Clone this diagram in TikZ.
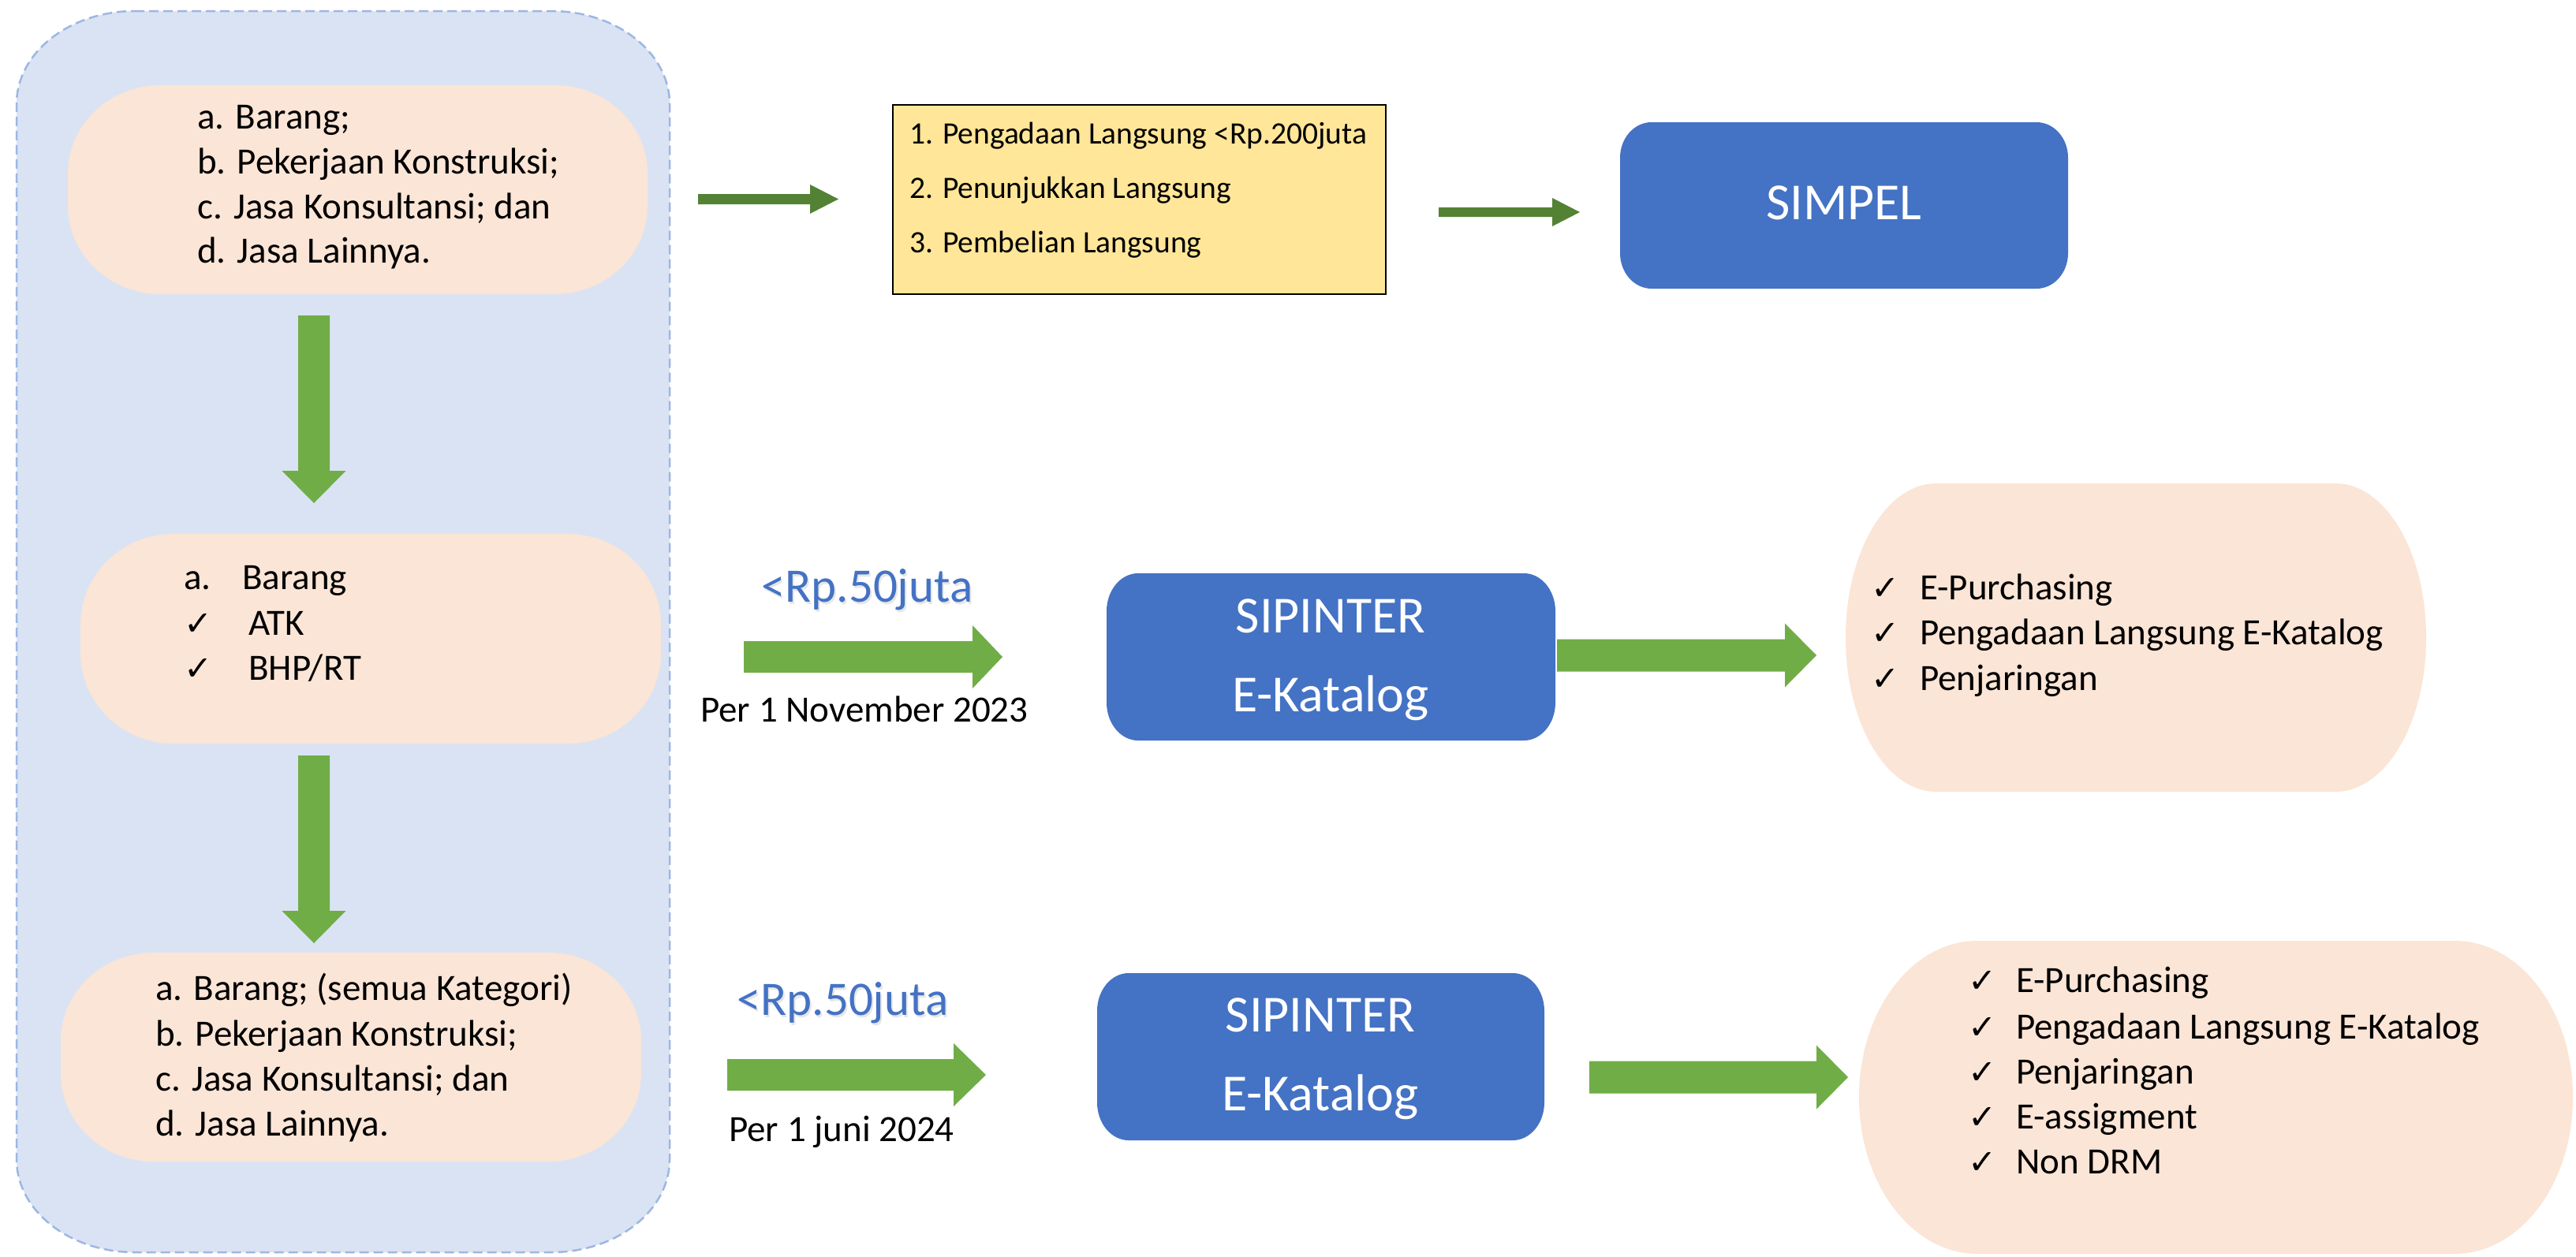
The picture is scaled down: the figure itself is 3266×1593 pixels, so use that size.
\documentclass[tikz,border=0pt]{standalone}
\usepackage{fontspec}
\setmainfont{Carlito}
\newfontfamily\chkfont{DejaVu Sans}
\definecolor{contfill}{HTML}{DAE3F3}
\definecolor{contline}{HTML}{9DB7E3}
\definecolor{peach}{HTML}{FBE5D6}
\definecolor{yellowbox}{HTML}{FFE699}
\definecolor{bluebox}{HTML}{4472C4}
\definecolor{greenarrow}{HTML}{70AD47}
\definecolor{darkgreen}{HTML}{548235}
\newcommand{\ellrect}[7]{%
  \path[#1] ({#2+#6},#3) -- ({#4-#6},#3)
    arc[start angle=-90,end angle=0,x radius=#6,y radius=#7] -- (#4,{#5-#7})
    arc[start angle=0,end angle=90,x radius=#6,y radius=#7] -- ({#2+#6},#5)
    arc[start angle=90,end angle=180,x radius=#6,y radius=#7] -- (#2,{#3+#7})
    arc[start angle=180,end angle=270,x radius=#6,y radius=#7] -- cycle;}
% horizontal block arrow: colour, x start, x head base, x tip, y centre, shaft half, head half
\newcommand{\harrow}[7]{%
  \fill[#1] (#2,{#5-#6}) -- (#3,{#5-#6}) -- (#3,{#5-#7}) -- (#4,#5) -- (#3,{#5+#7}) -- (#3,{#5+#6}) -- (#2,{#5+#6}) -- cycle;}
% vertical block arrow: colour, x centre, y start, y head base, y tip, shaft half, head half
\newcommand{\varrow}[7]{%
  \fill[#1] ({#2-#6},#3) -- ({#2+#6},#3) -- ({#2+#6},#4) -- ({#2+#7},#4) -- (#2,#5) -- ({#2-#7},#4) -- ({#2-#6},#4) -- cycle;}
\tikzset{
  txt/.style={inner sep=0pt, anchor=base west, font=\fontsize{47}{56}\selectfont},
  ytxt/.style={inner sep=0pt, anchor=base west, font=\fontsize{39.5}{46}\selectfont},
  chk/.style={inner sep=0pt, anchor=base west, font=\chkfont\fontsize{43}{46}\selectfont},
  wtxt/.style={inner sep=0pt, anchor=base, text=white, font=\fontsize{66}{76}\selectfont},
  rptxt/.style={inner sep=0pt, anchor=base west, text=bluebox, font=\fontsize{61}{70}\selectfont},
  shadowtxt/.style={inner sep=0pt, anchor=base west, text=black!30, opacity=0.3, font=\fontsize{61}{70}\selectfont},
  area/.style={inner sep=0pt}
}
\begin{document}
\begin{tikzpicture}[x=1pt,y=-1pt]
\useasboundingbox (0,0) rectangle (3266,1593);
\fill[white] (0,0) rectangle (3266,1593);
% container
\ellrect{fill=contfill, draw=contline, line width=2.5pt, dash pattern=on 12pt off 6pt}{21}{14}{849}{1588}{150}{118}
\node[area, minimum width=828pt, minimum height=1574pt] (cont) at (435,801) {};
% peach boxes on the left
\ellrect{fill=peach}{86}{108}{821}{373}{118}{112}
\node[area, minimum width=735pt, minimum height=265pt] (pk1) at (453.5,240.5) {};
\ellrect{fill=peach}{102}{677}{838}{943}{118}{115}
\node[area, minimum width=736pt, minimum height=266pt] (pk2) at (470,810) {};
\ellrect{fill=peach}{77}{1208}{813}{1473}{118}{112}
\node[area, minimum width=736pt, minimum height=265pt] (pk3) at (445,1340.5) {};
% right peach boxes
\ellrect{fill=peach}{2340}{613}{3076}{1004}{115}{195}
\node[area, minimum width=736pt, minimum height=391pt] (rk1) at (2708,808.5) {};
\ellrect{fill=peach}{2357}{1193}{3262}{1590}{150}{198}
\node[area, minimum width=905pt, minimum height=397pt] (rk2) at (2809.5,1391.5) {};
% yellow box
\draw[fill=yellowbox, draw=black, line width=2.5pt] (1132,133) rectangle (1757,373);
\node[area, minimum width=625pt, minimum height=240pt] (yb) at (1444.5,253) {};
% blue boxes
\ellrect{fill=bluebox}{2054}{155}{2622}{366}{40}{45}
\node[area, minimum width=568pt, minimum height=211pt] (simpel) at (2338,260.5) {};
\ellrect{fill=bluebox}{1403}{727}{1972}{939}{40}{48}
\node[area, minimum width=569pt, minimum height=212pt] (sip1) at (1687.5,833) {};
\ellrect{fill=bluebox}{1391}{1234}{1958}{1446}{40}{48}
\node[area, minimum width=567pt, minimum height=212pt] (sip2) at (1674.5,1340) {};
% arrows
\varrow{greenarrow}{398}{400}{597}{638}{20}{40.5}
\varrow{greenarrow}{398}{958}{1155}{1196}{20}{40.5}
\harrow{darkgreen}{885}{1027}{1063}{252.5}{6.5}{18.5}
\harrow{darkgreen}{1824}{1968}{2003}{269}{6}{18}
\harrow{greenarrow}{943}{1233}{1271}{833}{20}{40}
\harrow{greenarrow}{1974}{2263}{2303}{831}{20.5}{40.5}
\harrow{greenarrow}{922}{1209}{1250}{1363}{20}{40}
\harrow{greenarrow}{2015}{2303}{2343}{1366}{20.5}{40.5}
% texts: left box 1
\node[txt] (l1a) at (250,163) {a. Barang;};
\node[txt] (l1b) at (250,220) {b. Pekerjaan Konstruksi;};
\node[txt] (l1c) at (250,277) {c. Jasa Konsultansi; dan};
\node[txt] (l1d) at (250,333) {d. Jasa Lainnya.};
% left box 2
\node[txt] (l2a) at (233,747) {a.};
\node[txt] (l2b) at (307,747) {Barang};
\node[chk] (l2c1) at (233,805) {✓};
\node[txt] (l2c) at (315,805) {ATK};
\node[chk] (l2c2) at (233,862) {✓};
\node[txt] (l2d) at (315,862) {BHP/RT};
% left box 3
\node[txt] (l3a) at (197,1268) {a. Barang; (semua Kategori)};
\node[txt] (l3b) at (197,1326) {b. Pekerjaan Konstruksi;};
\node[txt] (l3c) at (197,1383) {c. Jasa Konsultansi; dan};
\node[txt] (l3d) at (197,1440) {d. Jasa Lainnya.};
% yellow box text
\node[ytxt] (y1) at (1153,182) {1. Pengadaan Langsung <Rp.200juta};
\node[ytxt] (y2) at (1153,251) {2. Penunjukkan Langsung};
\node[ytxt] (y3) at (1153,320) {3. Pembelian Langsung};
% blue box texts
\node[wtxt] (tsimpel) at (2338,278) {SIMPEL};
\node[wtxt] (ts1a) at (1687,802) {SIPINTER};
\node[wtxt] (ts1b) at (1687,902) {E-Katalog};
\node[wtxt] (ts2a) at (1674,1308) {SIPINTER};
\node[wtxt] (ts2b) at (1674,1408) {E-Katalog};
% threshold labels
\node[shadowtxt] (rp1s) at (967,766) {<Rp.50juta};
\node[rptxt] (rp1) at (965,763) {<Rp.50juta};
\node[shadowtxt] (rp2s) at (936,1290) {<Rp.50juta};
\node[rptxt] (rp2) at (934,1287) {<Rp.50juta};
\node[txt] (per1) at (888,915) {Per 1 November 2023};
\node[txt] (per2) at (924,1447) {Per 1 juni 2024};
% right box 1
\node[chk] (r1c1) at (2372,760) {✓};
\node[txt] (r1a) at (2434,760) {E-Purchasing};
\node[chk] (r1c2) at (2372,817) {✓};
\node[txt] (r1b) at (2434,817) {Pengadaan Langsung E-Katalog};
\node[chk] (r1c3) at (2372,875) {✓};
\node[txt] (r1c) at (2434,875) {Penjaringan};
% right box 2
\node[chk] (r2c1) at (2495,1258) {✓};
\node[txt] (r2a) at (2556,1258) {E-Purchasing};
\node[chk] (r2c2) at (2495,1317) {✓};
\node[txt] (r2b) at (2556,1317) {Pengadaan Langsung E-Katalog};
\node[chk] (r2c3) at (2495,1374) {✓};
\node[txt] (r2c) at (2556,1374) {Penjaringan};
\node[chk] (r2c4) at (2495,1431) {✓};
\node[txt] (r2d) at (2556,1431) {E-assigment};
\node[chk] (r2c5) at (2495,1488) {✓};
\node[txt] (r2e) at (2556,1488) {Non DRM};
\end{tikzpicture}
\end{document}
